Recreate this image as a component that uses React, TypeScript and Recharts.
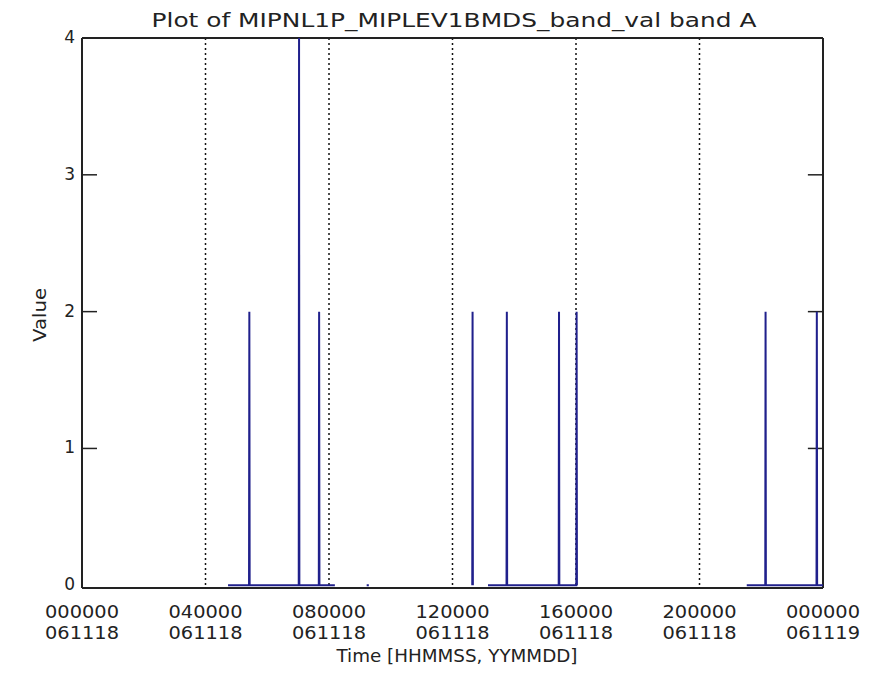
import React from 'react';
import {
  CartesianGrid,
  Customized,
  Line,
  LineChart,
  ReferenceLine,
  XAxis,
  YAxis,
} from 'recharts';

// ─── Data ────────────────────────────────────────────────────────────

// sample times in hours since 000000 061118, null value = no data (gap)
const SAMPLE_HOURS = [
  4.73, 5.41, 5.42, 5.43, 7.02, 7.03, 7.04, 7.67, 7.68, 7.69, 8.19, 8.7,
  9.22, 9.29, 10.5,
  12.64, 12.65, 12.66, 12.9,
  13.15, 13.75, 13.76, 13.77, 15.44, 15.45, 15.46, 16.01, 16.02, 16.03, 18.5,
  21.53, 22.13, 22.14, 22.15, 23.79, 23.8, 23.81, 24.0,
];
const SAMPLE_VALUES: (number | null)[] = [
  0, 0, 2, 0, 0, 4, 0, 0, 2, 0, 0, null,
  0, 0, null,
  0, 2, 0, null,
  0, 0, 2, 0, 0, 2, 0, 0, 2, 0, null,
  0, 0, 2, 0, 0, 2, 0, 0,
];

const TICK_HOURS = [0, 4, 8, 12, 16, 20, 24];
const TICK_TIMES = ['000000', '040000', '080000', '120000', '160000', '200000', '000000'];
const TICK_DATES = ['061118', '061118', '061118', '061118', '061118', '061118', '061119'];
const Y_TICKS = [0, 1, 2, 3, 4];
const INNER_TICKS = [1, 2, 3];

const TITLE = 'Plot of MIPNL1P_MIPLEV1BMDS_band_val band A';
const X_TITLE = 'Time [HHMMSS, YYMMDD]';
const Y_TITLE = 'Value';

// ─── Styles ──────────────────────────────────────────────────────────

const FONT = '"DejaVu Sans", sans-serif';
const INK = '#222';
const SERIES = '#20208c';
// IDL leaves a hair of room under zero so the baseline sits just above the axis
const Y_MIN = -0.02;
const Y_MAX = 4;
const X_MAX = 24;
// inward tick length on the right frame, in hours (~15px)
const TICK_LEN_H = 0.49;

const data = SAMPLE_HOURS.map((t, i) => ({ t, v: SAMPLE_VALUES[i] }));

// ─── Ticks ───────────────────────────────────────────────────────────

const TimeTick = (props: any) => {
  const { x, y, payload } = props;
  const idx = TICK_HOURS.indexOf(payload.value);
  if (idx < 0) return null;
  return (
    <g>
      <text x={x} y={y + 30} textAnchor="middle" fontFamily={FONT} fontSize={17}
        fill={INK} textLength={74} lengthAdjust="spacingAndGlyphs">
        {TICK_TIMES[idx]}
      </text>
      <text x={x} y={y + 51} textAnchor="middle" fontFamily={FONT} fontSize={17}
        fill={INK} textLength={74} lengthAdjust="spacingAndGlyphs">
        {TICK_DATES[idx]}
      </text>
    </g>
  );
};

const LeftTick = (props: any) => {
  const { x, y, payload } = props;
  const inner = INNER_TICKS.includes(payload.value);
  return (
    <g>
      {inner && <line x1={x} x2={x + 15} y1={y} y2={y} stroke={INK} strokeWidth={1.5} />}
      <text x={x - 7} y={y} dy={5} textAnchor="end" fontFamily={FONT} fontSize={17} fill={INK}>
        {payload.value}
      </text>
    </g>
  );
};

const Titles = () => (
  <g>
    <text x={454} y={27} textAnchor="middle" fontFamily={FONT} fontSize={19} fill={INK}
      textLength={605} lengthAdjust="spacingAndGlyphs">
      {TITLE}
    </text>
    <text x={457} y={662} textAnchor="middle" fontFamily={FONT} fontSize={17} fill={INK}
      textLength={241} lengthAdjust="spacingAndGlyphs">
      {X_TITLE}
    </text>
    <text x={46} y={315} textAnchor="middle" fontFamily={FONT} fontSize={17} fill={INK}
      transform="rotate(-90 46 315)" textLength={54} lengthAdjust="spacingAndGlyphs">
      {Y_TITLE}
    </text>
  </g>
);

// ─── Component ───────────────────────────────────────────────────────

export default function App() {
  return (
    <div style={{ position: 'absolute', left: 0, top: 0, width: 873, height: 675, background: '#fff' }}>
      <LineChart
        width={873}
        height={675}
        data={data}
        margin={{ top: 38, right: 50, left: 0, bottom: 27 }}
      >
        <CartesianGrid
          horizontal={false}
          stroke="#111"
          strokeWidth={1.5}
          strokeDasharray="2 3"
        />
        <XAxis
          dataKey="t"
          type="number"
          domain={[0, X_MAX]}
          ticks={TICK_HOURS}
          allowDataOverflow
          height={60}
          tickSize={0}
          tickMargin={0}
          tickLine={false}
          axisLine={false}
          tick={<TimeTick />}
          interval={0}
        />
        <YAxis
          domain={[Y_MIN, Y_MAX]}
          ticks={Y_TICKS}
          width={82}
          tickSize={0}
          tickMargin={0}
          tickLine={false}
          axisLine={{ stroke: INK, strokeWidth: 2 }}
          tick={<LeftTick />}
          interval={0}
        />
        {/* frame: bottom, top and right edges, with inward ticks on the right */}
        <ReferenceLine y={Y_MIN} stroke={INK} strokeWidth={2} />
        <ReferenceLine y={Y_MAX} stroke={INK} strokeWidth={2} />
        <ReferenceLine x={X_MAX} stroke={INK} strokeWidth={2} />
        {INNER_TICKS.map((v) => (
          <ReferenceLine
            key={v}
            segment={[{ x: X_MAX - TICK_LEN_H, y: v }, { x: X_MAX, y: v }]}
            stroke={INK}
            strokeWidth={1.5}
          />
        ))}
        <Line
          type="linear"
          dataKey="v"
          stroke={SERIES}
          strokeWidth={2}
          dot={false}
          activeDot={false}
          connectNulls={false}
          isAnimationActive={false}
        />
        <Customized component={<Titles />} />
      </LineChart>
    </div>
  );
}
